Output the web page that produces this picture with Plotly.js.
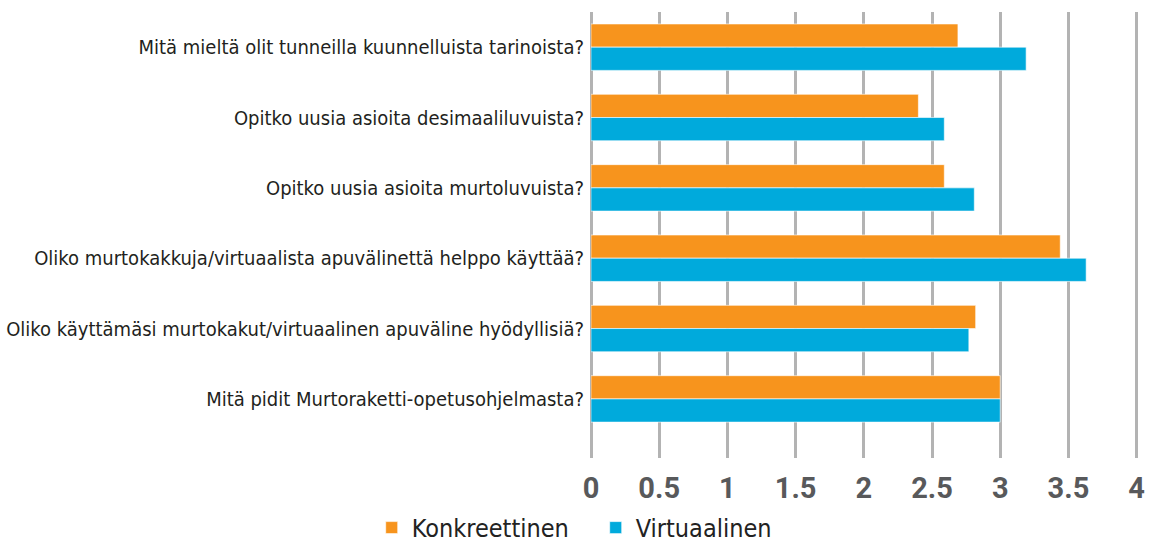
<!DOCTYPE html>
<html>
<head>
<meta charset="utf-8">
<script src="https://cdn.plot.ly/plotly-3.0.1.min.js"></script>
<style>html,body{margin:0;padding:0;background:#fff;}#chart{width:1150px;height:547px;}</style>
</head>
<body>
<div id="chart"></div>
<script>
const categories = [
  "Mitä mieltä olit tunneilla kuunnelluista tarinoista?",
  "Opitko uusia asioita desimaaliluvuista?",
  "Opitko uusia asioita murtoluvuista?",
  "Oliko murtokakkuja/virtuaalista apuvälinettä helppo käyttää?",
  "Oliko käyttämäsi murtokakut/virtuaalinen apuväline hyödyllisiä?",
  "Mitä pidit Murtoraketti-opetusohjelmasta?"
];
const konkreettinen = [2.69, 2.40, 2.59, 3.44, 2.82, 3.00];
const virtuaalinen = [3.19, 2.59, 2.81, 3.63, 2.77, 3.00];
const xTickVals = [0, 0.5, 1, 1.5, 2, 2.5, 3, 3.5, 4];
const xTickText = ["0", "0.5", "1", "1.5", "2", "2.5", "3", "3.5", "4"];

const traces = [
  {type: "bar", orientation: "h", name: "Konkreettinen", y: categories, x: konkreettinen,
   marker: {color: "#F7941D", line: {color: "rgba(255,255,255,0.6)", width: 1}}},
  {type: "bar", orientation: "h", name: "Virtuaalinen", y: categories, x: virtuaalinen,
   marker: {color: "#00AADC", line: {color: "rgba(255,255,255,0.6)", width: 1}}}
];

const layout = {
  width: 1150, height: 547,
  margin: {l: 591, r: 12, t: 12, b: 89, autoexpand: false},
  paper_bgcolor: "#fff", plot_bgcolor: "#fff",
  barmode: "group", bargap: 0.34, bargroupgap: 0,
  showlegend: true,
  legend: {orientation: "h", xref: "container", x: 0.518, xanchor: "center",
    yref: "container", y: 0.035, yanchor: "middle",
    font: {family: "Liberation Sans Narrow, DejaVu Sans Condensed, Roboto, sans-serif", size: 25, color: "#222"},
    traceorder: "normal", itemwidth: 30, entrywidth: 179, entrywidthmode: "pixels"},
  xaxis: {range: [0, 4.01], tickvals: xTickVals, ticktext: xTickText, showgrid: true,
    gridcolor: "#b3b3b3", gridwidth: 3, zeroline: true, zerolinecolor: "#b3b3b3", zerolinewidth: 3,
    showline: false, ticks: "",
    tickfont: {family: "Roboto, DejaVu Sans, sans-serif", size: 29, color: "#58595b", weight: "bold"},
    ticklabelstandoff: 10, fixedrange: true},
  yaxis: {type: "category", range: [5.84, -0.5], showgrid: false, zeroline: false, showline: false,
    ticks: "", ticklabelstandoff: 6,
    tickfont: {family: "Liberation Sans Narrow, DejaVu Sans Condensed, sans-serif", size: 20, color: "#231f20"}}
};

Plotly.newPlot("chart", traces, layout, {displayModeBar: false, staticPlot: true});
</script>
</body>
</html>
